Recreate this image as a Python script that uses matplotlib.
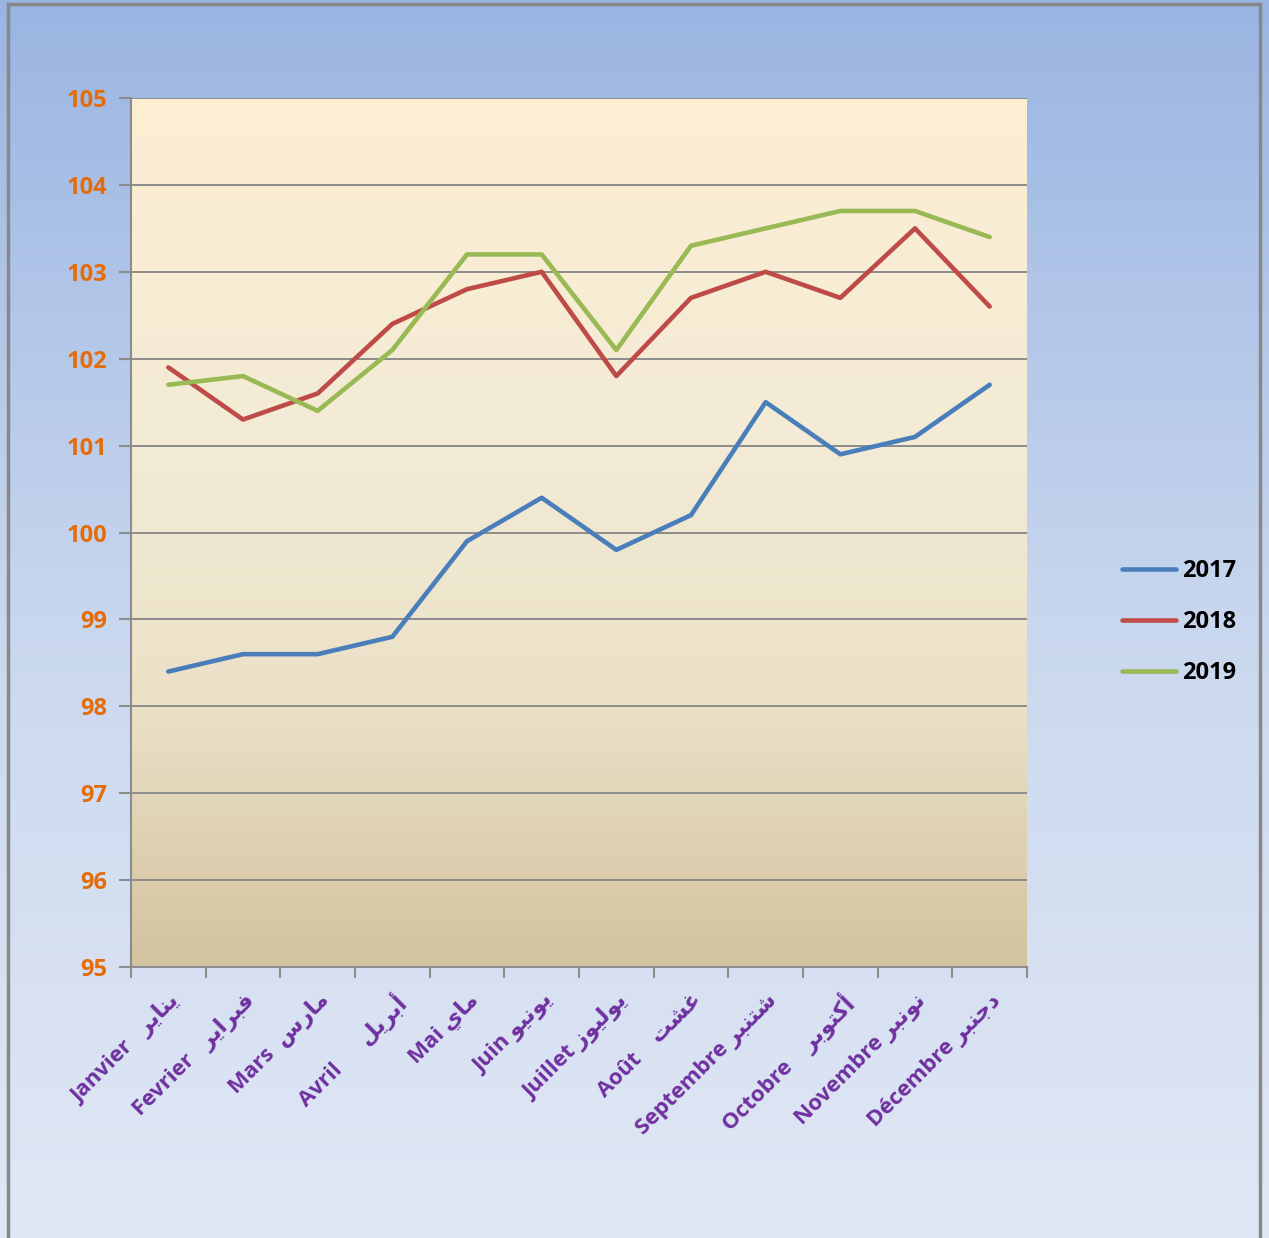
import numpy as np
import matplotlib
matplotlib.use("Agg")
import matplotlib.pyplot as plt
from matplotlib.colors import LinearSegmentedColormap
from matplotlib.patches import Rectangle

months_fr = ["Janvier", "Fevrier", "Mars", "Avril", "Mai", "Juin", "Juillet",
             "Août", "Septembre", "Octobre", "Novembre", "Décembre"]
months_ar = ["يناير", "فبراير", "مارس", "أبريل", "ماي", "يونيو", "يوليوز",
             "غشت", "شتنبر", "أكتوبر", "نونبر", "دجنبر"]
gaps = [3, 3, 2, 6, 1, 1, 1, 4, 1, 4, 1, 1]

years = ["2017", "2018", "2019"]
v2017 = [98.4, 98.6, 98.6, 98.8, 99.9, 100.4, 99.8, 100.2, 101.5, 100.9, 101.1, 101.7]
v2018 = [101.9, 101.3, 101.6, 102.4, 102.8, 103.0, 101.8, 102.7, 103.0, 102.7, 103.5, 102.6]
v2019 = [101.7, 101.8, 101.4, 102.1, 103.2, 103.2, 102.1, 103.3, 103.5, 103.7, 103.7, 103.4]
colors = ["#4A7EBB", "#BE4B48", "#98B954"]

# minimal Arabic shaping (presentation forms), since matplotlib has no shaper
FORMS = {  # iso, fin, ini, med  (None = does not join forward)
    "ا": (0xFE8D, 0xFE8E, None, None), "أ": (0xFE83, 0xFE84, None, None),
    "ب": (0xFE8F, 0xFE90, 0xFE91, 0xFE92), "ت": (0xFE95, 0xFE96, 0xFE97, 0xFE98),
    "ج": (0xFE9D, 0xFE9E, 0xFE9F, 0xFEA0), "د": (0xFEA9, 0xFEAA, None, None),
    "ر": (0xFEAD, 0xFEAE, None, None), "ز": (0xFEAF, 0xFEB0, None, None),
    "س": (0xFEB1, 0xFEB2, 0xFEB3, 0xFEB4), "ش": (0xFEB5, 0xFEB6, 0xFEB7, 0xFEB8),
    "غ": (0xFECD, 0xFECE, 0xFECF, 0xFED0), "ف": (0xFED1, 0xFED2, 0xFED3, 0xFED4),
    "ك": (0xFED9, 0xFEDA, 0xFEDB, 0xFEDC), "ل": (0xFEDD, 0xFEDE, 0xFEDF, 0xFEE0),
    "م": (0xFEE1, 0xFEE2, 0xFEE3, 0xFEE4), "ن": (0xFEE5, 0xFEE6, 0xFEE7, 0xFEE8),
    "و": (0xFEED, 0xFEEE, None, None), "ي": (0xFEF1, 0xFEF2, 0xFEF3, 0xFEF4),
}


def shape(word):
    out = []
    for i, ch in enumerate(word):
        f = FORMS[ch]
        prev_joins = i > 0 and FORMS[word[i - 1]][2] is not None
        next_joins = i < len(word) - 1 and f[2] is not None
        if prev_joins and next_joins:
            c = f[3]
        elif prev_joins:
            c = f[1]
        elif next_joins:
            c = f[2]
        else:
            c = f[0]
        out.append(chr(c))
    return "".join(reversed(out))


labels = [fr + " " * g + shape(ar) for fr, ar, g in zip(months_fr, months_ar, gaps)]

plt.rcParams["font.family"] = ["Open Sans", "DejaVu Sans"]

fig = plt.figure(figsize=(12.69, 12.38), dpi=100)

# figure background gradient
bg = fig.add_axes([0, 0, 1, 1], zorder=-10)
bg_cmap = LinearSegmentedColormap.from_list("bg", ["#E1E8F5", "#C9D7EE", "#9AB5E2"])
bg.imshow(np.linspace(0, 1, 256).reshape(-1, 1), cmap=bg_cmap, origin="lower",
          aspect="auto", extent=[0, 1, 0, 1])
bg.set_xlim(0, 1)
bg.set_ylim(0, 1)
bg.axis("off")
bg.add_patch(Rectangle((8 / 1269, -0.01), (1260 - 8) / 1269, 1.01 - 4 / 1238,
                       fill=False, edgecolor="#888888", linewidth=2.5))

ax = fig.add_axes([131 / 1269, 271 / 1238, 896 / 1269, 869 / 1238])
pa_cmap = LinearSegmentedColormap.from_list(
    "pa", [(0, "#D3C39F"), (0.3, "#EBE1C7"), (0.6, "#F3EBD6"), (1, "#FDEED3")])
ax.imshow(np.linspace(0, 1, 256).reshape(-1, 1), cmap=pa_cmap, origin="lower",
          aspect="auto", extent=[-0.5, 11.5, 95, 105], zorder=0)

x = np.arange(len(months_fr))
for vals, yr, c in zip([v2017, v2018, v2019], years, colors):
    ax.plot(x, vals, color=c, linewidth=3.3, label=yr, zorder=3,
            solid_capstyle="round")

ax.set_xlim(-0.5, 11.5)
ax.set_ylim(95, 105)
ax.set_yticks(range(95, 106))
ax.grid(axis="y", color="#8C8C8C", linewidth=1.4, zorder=1)
ax.set_axisbelow(False)
for s in ["top", "right"]:
    ax.spines[s].set_visible(False)
for s in ["left", "bottom"]:
    ax.spines[s].set_color("#8C8C8C")
    ax.spines[s].set_linewidth(1.5)

ax.tick_params(axis="y", length=9, width=1.5, color="#8C8C8C", pad=8,
               labelsize=17, labelcolor="#E46C0A")
for t in ax.get_yticklabels():
    t.set_fontweight("bold")

ax.set_xticks(x)
ax.set_xticklabels(labels, rotation=45, ha="right", rotation_mode="anchor",
                   fontsize=16, fontweight="bold", color="#7030A0")
ax.tick_params(axis="x", length=0, pad=16)
ax.set_xticks(np.arange(-0.5, 12, 1), minor=True)
ax.tick_params(axis="x", which="minor", length=8, width=1.5, color="#8C8C8C")

fig.legend(loc="center left", bbox_to_anchor=(1122 / 1269, 1 - 622 / 1238),
           frameon=False, handlelength=2.3, labelspacing=1.15, handletextpad=0.25,
           borderaxespad=0, borderpad=0,
           prop={"weight": "bold", "size": 17})

fig.savefig("out.png", dpi=100)
